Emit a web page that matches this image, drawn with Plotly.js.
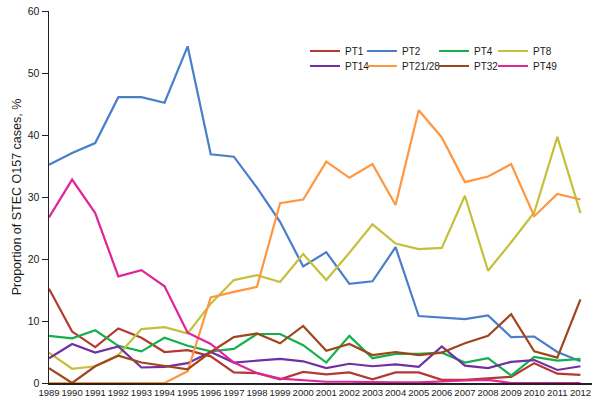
<!DOCTYPE html>
<html>
<head>
<meta charset="utf-8">
<script src="https://cdn.plot.ly/plotly-3.0.1.min.js"></script>
<style>html,body{margin:0;padding:0;background:#fff;}#chart{width:600px;height:408px;}</style>
</head>
<body>
<div id="chart"></div>
<script>
const years = [1989,1990,1991,1992,1993,1994,1995,1996,1997,1998,1999,2000,2001,2002,2003,2004,2005,2006,2007,2008,2009,2010,2011,2012];
const yearLabels = years.map(String);
const seriesNames = ["PT1","PT2","PT4","PT8","PT14","PT21/28","PT32","PT49"];
const pt1 = [15.2,8.3,5.8,8.8,7.3,5.0,5.3,4.3,1.7,1.6,0.6,1.8,1.4,1.7,0.6,1.7,1.7,0.5,0.5,0.8,1.0,3.2,1.5,1.3];
const pt2 = [35.2,37.1,38.7,46.1,46.1,45.2,54.3,36.9,36.5,31.5,26.0,18.8,21.1,16.0,16.4,21.9,10.8,10.6,10.3,10.9,7.4,7.5,5.0,3.5];
const pt4 = [7.6,7.2,8.5,6.0,5.1,7.3,6.0,5.1,5.5,7.9,7.9,6.1,3.3,7.6,4.0,4.7,4.7,4.9,3.3,4.0,1.2,4.2,3.6,3.9];
const pt8 = [4.9,2.3,2.7,4.5,8.7,9.0,8.0,12.8,16.6,17.4,16.3,20.8,16.6,21.0,25.6,22.5,21.6,21.8,30.2,18.1,22.7,27.5,39.7,27.4];
const pt14 = [4.0,6.3,4.9,5.9,2.5,2.6,3.2,5.0,3.3,3.6,3.9,3.5,2.4,3.1,2.7,3.0,2.6,5.9,2.8,2.4,3.4,3.7,2.1,2.7];
const pt2128 = [0,0,0,0,0,0,1.9,13.8,14.7,15.5,29.0,29.6,35.7,33.1,35.3,28.7,44.0,39.6,32.4,33.3,35.3,26.9,30.5,29.6];
const pt32 = [2.4,0,2.7,4.4,3.3,2.7,2.2,5.0,7.4,8.0,6.4,9.2,5.2,6.3,4.5,5.0,4.5,4.9,6.4,7.6,11.1,5.1,4.1,13.5];
const pt49 = [26.7,32.8,27.4,17.2,18.2,15.6,8.1,6.3,3.3,1.6,0.7,0.4,0.2,0.2,0.1,0.1,0.1,0.3,0.4,0.5,0,0,0,0];
const seriesValues = [pt1,pt2,pt4,pt8,pt14,pt2128,pt32,pt49];
const colors = ["#b23a30","#4a7ecb","#13b04b","#c5c03b","#7030a0","#ff9640","#a0461c","#e0249a"];

// legend grid positions (column x, row y) in paper coords
const legCols = [0.4715,0.5764,0.7090,0.8177];
const legRows = [0.8925,0.8522];

const traces = seriesNames.map((n,i)=>({
  x: years, y: seriesValues[i], name: n, type:'scatter', mode:'lines',
  line:{color:colors[i], width:2.2},
  legend: i===0 ? 'legend' : 'legend'+(i+1)
}));

const layout = {
  width:600, height:408,
  margin:{l:49,r:8,t:11,b:25},
  paper_bgcolor:'#fff', plot_bgcolor:'#fff',
  font:{family:'"Liberation Sans", Arial, sans-serif', color:'#1a1a1a'},
  xaxis:{range:[1989,2012.5], tickvals:years, ticktext:yearLabels, showgrid:false, zeroline:false,
    showline:true, linecolor:'#222', linewidth:1.5, ticks:'', layer:'below traces',
    tickfont:{size:9.5, color:'#1a1a1a'}, tickangle:0},
  yaxis:{range:[0,60], dtick:10, showgrid:false, zeroline:false, showline:true, linecolor:'#222', linewidth:1.5,
    ticks:'outside', ticklen:6, tickwidth:1, tickcolor:'#222', tickfont:{size:10.5,color:'#1a1a1a'},
    layer:'below traces',
    title:{text:'Proportion of STEC O157 cases, %', font:{size:12.5,color:'#1a1a1a'}, standoff:3}},
  showlegend:true
};
for(let i=0;i<8;i++){
  const key = i===0 ? 'legend' : 'legend'+(i+1);
  layout[key] = {x:legCols[i%4], y:legRows[Math.floor(i/4)], xanchor:'left', yanchor:'middle',
    bgcolor:'rgba(0,0,0,0)', borderwidth:0, font:{size:10,color:'#1a1a1a'}, itemwidth:30};
}
Plotly.newPlot('chart', traces, layout, {displayModeBar:false, staticPlot:true});
</script>
</body>
</html>
